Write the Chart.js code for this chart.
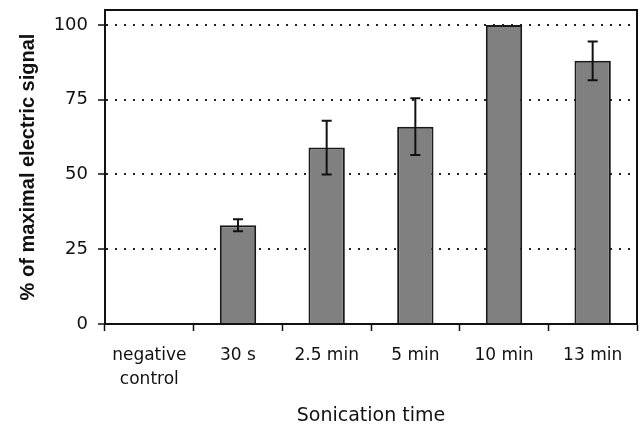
<!DOCTYPE html>
<html>
<head>
<meta charset="utf-8">
<script src="https://cdn.jsdelivr.net/npm/chart.js@4"></script>
<style>
  html, body { margin: 0; padding: 0; background: #fff; }
  canvas { display: block; }
</style>
</head>
<body>
<canvas id="grafico" width="640" height="429"></canvas>
<script>
const categories = [['negative', 'control'], '30 s', '2.5 min', '5 min', '10 min', '13 min'];
const signal = [0, 33, 59, 66, 100, 88];
const errors = [0, 2, 9, 9.5, 0, 6.5];
const yTicks = [0, 25, 50, 75, 100];

// error bars + frame on top/right of the plot
const extras = {
    id: 'extras',
    afterDatasetsDraw(chart) {
        const c = chart.ctx;
        const y = chart.scales.y;
        const meta = chart.getDatasetMeta(0);
        c.save();
        c.strokeStyle = '#111';
        c.lineWidth = 2;
        meta.data.forEach((bar, i) => {
            const e = errors[i];
            if (!e) return;
            const hi = y.getPixelForValue(signal[i] + e);
            const lo = y.getPixelForValue(signal[i] - e);
            c.beginPath();
            c.moveTo(bar.x, hi); c.lineTo(bar.x, lo);
            c.moveTo(bar.x - 5, hi); c.lineTo(bar.x + 5, hi);
            c.moveTo(bar.x - 5, lo); c.lineTo(bar.x + 5, lo);
            c.stroke();
        });
        const a = chart.chartArea;
        c.beginPath();
        c.moveTo(a.left, a.top); c.lineTo(a.right, a.top); c.lineTo(a.right, a.bottom);
        c.stroke();
        c.restore();
    }
};

document.addEventListener('DOMContentLoaded', function () {
    const ctx = document.getElementById('grafico');
    new Chart(ctx.getContext('2d'), {
        type: 'bar',
        data: {
            labels: categories,
            datasets: [{
                data: signal,
                backgroundColor: '#808080',
                borderColor: '#1a1a1a',
                borderWidth: 2,
                barPercentage: 0.41,
                categoryPercentage: 1.0
            }]
        },
        options: {
            responsive: false,
            animation: false,
            layout: { padding: { top: 0, right: 3, left: 0, bottom: 0 } },
            scales: {
                x: {
                    afterFit: s => { s.height = 105; },
                    grid: { drawOnChartArea: false, drawTicks: true, tickLength: 7, tickColor: '#111', tickWidth: 1.5 },
                    border: { color: '#111', width: 2 },
                    ticks: {
                        color: '#111',
                        padding: 12,
                        maxRotation: 0,
                        font: { family: 'DejaVu Sans', size: 17, lineHeight: 1.45 }
                    },
                    title: {
                        display: true,
                        text: 'Sonication time',
                        color: '#111',
                        padding: { top: 0, bottom: 2 },
                        font: { family: 'DejaVu Sans', size: 19 }
                    }
                },
                y: {
                    min: 0,
                    max: 105,
                    afterFit: s => { s.width = 105; s.paddingTop = 10; },
                    afterBuildTicks: s => { s.ticks = yTicks.map(v => ({ value: v })); },
                    grid: {
                        color: '#222',
                        lineWidth: 2,
                        drawTicks: true,
                        tickLength: 7,
                        tickColor: '#111',
                        tickWidth: 1.5
                    },
                    border: { color: '#111', width: 2, dash: [2, 7] },
                    ticks: {
                        color: '#111',
                        padding: 10,
                        font: { family: 'DejaVu Sans', size: 18 }
                    },
                    title: {
                        display: true,
                        text: '% of maximal electric signal',
                        color: '#111',
                        padding: { top: 16, bottom: 0 },
                        font: { family: 'Liberation Sans', size: 20, weight: 'bold' }
                    }
                }
            },
            plugins: {
                legend: { display: false },
                tooltip: { enabled: false }
            }
        },
        plugins: [extras]
    });
});
</script>
</body>
</html>
